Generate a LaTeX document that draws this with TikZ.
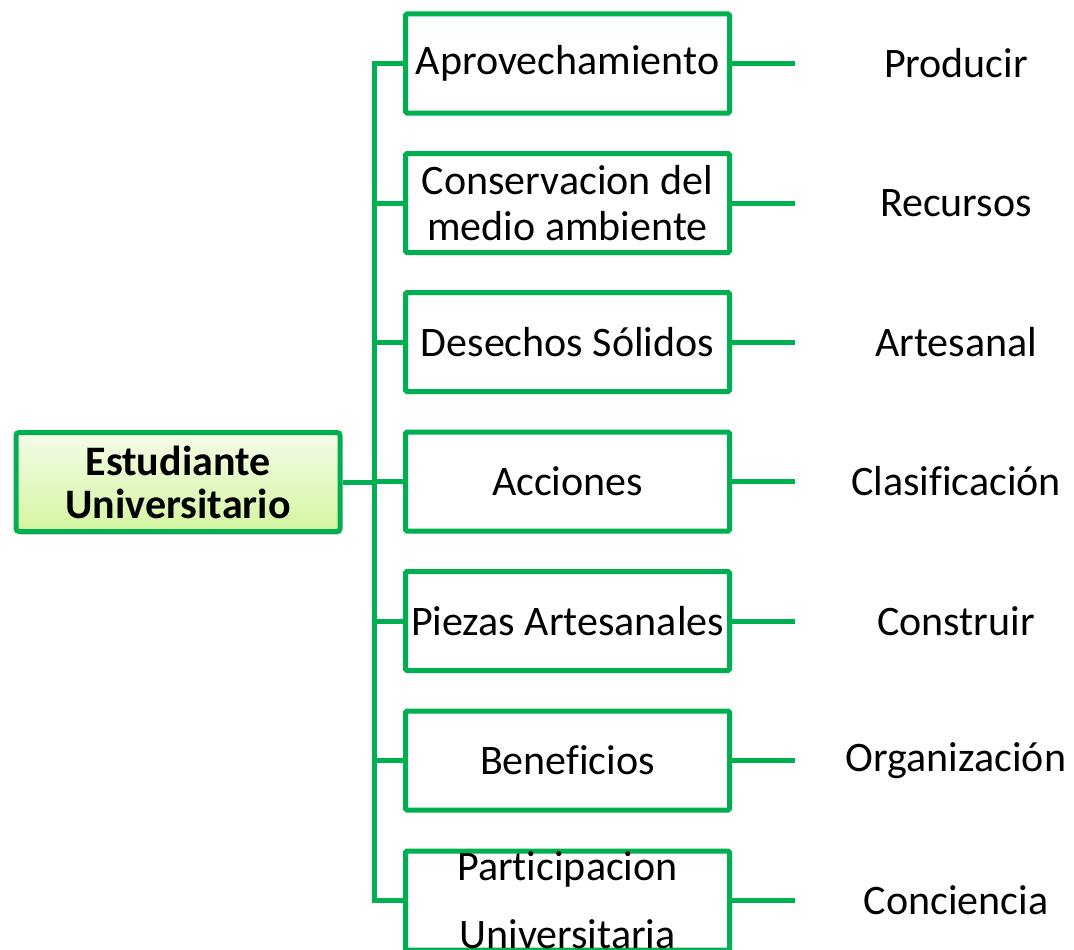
\documentclass[tikz,border=0pt]{standalone}
\usepackage{fontspec}
\setmainfont[Ligatures={NoCommon}]{Carlito}
\usetikzlibrary{shadows}
\definecolor{ogreen}{RGB}{0,176,80}
\definecolor{gtop}{RGB}{243,252,232}
\definecolor{gbot}{RGB}{212,245,160}
\begin{document}
\begin{tikzpicture}[x=1pt,y=-1pt,
  box/.style={draw=ogreen,line width=5pt,rounded corners=1.5pt,minimum width=324pt,minimum height=99pt,inner sep=0pt,font=\fontsize{42}{46}\selectfont,align=center},
  rootbox/.style={draw=ogreen,line width=5pt,rounded corners=3pt,minimum width=324pt,minimum height=99pt,inner sep=0pt,top color=gtop,bottom color=gbot,font=\bfseries\fontsize{42}{43}\selectfont,align=center,drop shadow={opacity=0.35,shadow xshift=2pt,shadow yshift=-3pt}},
  lbl/.style={font=\fontsize{42}{46}\selectfont,inner sep=0pt},
  conn/.style={draw=ogreen,line width=5pt}]
\useasboundingbox (0,0) rectangle (1074,950);
\node[rootbox] (root) at (178,482) {Estudiante\\Universitario};
\coordinate (trunk) at (374,482);
\node[box] (b1) at (567.5,63.5) {Aprovechamiento};
\node[box] (b2) at (567.5,203) {Conservacion del\\medio ambiente};
\node[box] (b3) at (567.5,342) {Desechos Sólidos};
\node[box] (b4) at (567.5,481.5) {Acciones};
\node[box] (b5) at (567.5,621) {Piezas Artesanales};
\node[box] (b6) at (567.5,760.5) {Beneficios};
\node[box] (b7) at (567.5,900.5) {};
\node[lbl,align=center,font=\fontsize{42}{68}\selectfont] (t7) at (567.5,900) {Participacion\\Universitaria};
\node[lbl] (r1) at (956,63.5) {Producir};
\node[lbl] (r2) at (956,203) {Recursos};
\node[lbl] (r3) at (956,342) {Artesanal};
\node[lbl] (r4) at (956,481.5) {Clasificación};
\node[lbl] (r5) at (956,621) {Construir};
\node[lbl] (r6) at (956,760.5) {Organización};
\node[lbl] (r7) at (956,900.5) {Conciencia};
\foreach \i in {1,...,7}{
  \coordinate (e\i) at (795,0 |- b\i.east);
  \draw[conn] (b\i.east) -- (e\i);
}
\draw[conn,line join=miter] (b1.west) -- (b1.west -| trunk) -- (b7.west -| trunk) -- (b7.west);
\foreach \i in {2,...,6}{
  \draw[conn] (b\i.west -| trunk) -- (b\i.west);
}
\draw[conn] (root.east) -- (trunk);
\end{tikzpicture}
\end{document}
